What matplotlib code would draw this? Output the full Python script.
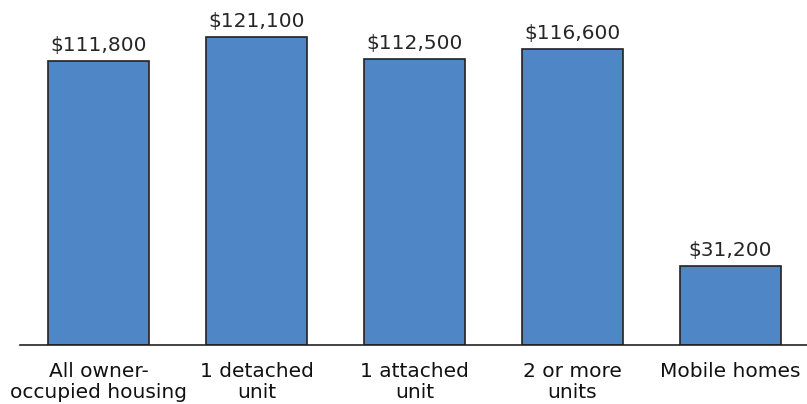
import matplotlib
matplotlib.use("Agg")
import matplotlib.pyplot as plt

categories = ["All owner-\noccupied housing", "1 detached\nunit", "1 attached\nunit", "2 or more\nunits", "Mobile homes"]
values = [111800, 121100, 112500, 116600, 31200]
value_labels = ["$111,800", "$121,100", "$112,500", "$116,600", "$31,200"]

W, H = 807, 404
fig = plt.figure(figsize=(W / 100, H / 100), dpi=100)
ax = fig.add_axes([20 / W, (H - 345) / H, (W - 20) / W, 345 / H])

x = list(range(len(categories)))
bars = ax.bar(x, values, width=0.64, color="#4f86c6", edgecolor="#222222", linewidth=1.2, zorder=2)

ax.set_xlim(-0.497, 4.484)
ax.set_ylim(0, 345 / 0.00254)

for b, lab in zip(bars, value_labels):
    ax.annotate(lab, (b.get_x() + b.get_width() / 2, b.get_height()), xytext=(0, 4.5),
                textcoords="offset points", ha="center", va="bottom", fontsize=14.5, color="#262626")

ax.set_xticks(x)
ax.set_xticklabels(categories, fontsize=14.5, color="#111111", linespacing=1.15)
ax.tick_params(axis="x", length=0, pad=12)
ax.set_yticks([])
for s in ["top", "right", "left"]:
    ax.spines[s].set_visible(False)
ax.spines["bottom"].set_color("#222222")
ax.spines["bottom"].set_linewidth(1.2)

fig.savefig("out.png", dpi=100)
